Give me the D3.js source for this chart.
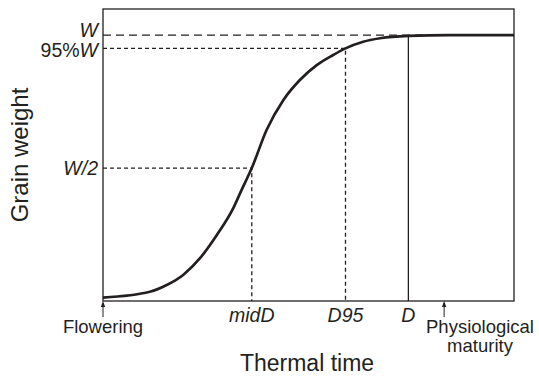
<!DOCTYPE html>
<html>
<head>
<meta charset="utf-8">
<script src="https://cdn.jsdelivr.net/npm/d3@7"></script>
<style>
  body { margin: 0; background: #fff; }
  text { font-family: Arial, "Liberation Sans", Helvetica, sans-serif; fill: #231f20; }
</style>
</head>
<body>
<div id="chart"></div>
<script>
// thermal time (arbitrary units, flowering = 0) and grain weight (% of W)
let thermalTime = [0, 114, 155, 195, 236, 277, 317, 337, 362, 398, 439, 479, 520, 560, 590, 633, 674, 743, 844, 1000]
let grainWeight = [1.3, 3.5, 6.0, 9.8, 16.1, 24.8, 34.9, 41.7, 50.0, 64.3, 75.6, 83.1, 88.7, 92.5, 95, 97.5, 98.8, 99.7, 100, 100]

let finalWeight = 100
let midD = 362
let d95 = 590
let dEnd = 743
let maturity = 830

// dy = baseline offset from the guide line
let yLabels = [
    { v: finalWeight, pre: "", it: "W", dy: 1.5 },
    { v: finalWeight * 0.95, pre: "95%", it: "W", dy: 8.5 },
    { v: finalWeight / 2, pre: "", it: "W/2", dy: 7 }
]
let xLabels = [
    { v: midD, t: "midD" },
    { v: d95, t: "D95" },
    { v: dEnd, t: "D" }
]

const width = 539, height = 376
const margin = { top: 9, right: 25, bottom: 75, left: 103 }

let svg = d3.select('#chart')
    .append('svg')
    .attr('width', width)
    .attr('height', height)

let x = d3.scaleLinear().domain([0, 1000]).range([margin.left, width - margin.right])
let y = d3.scaleLinear().domain([0, 109.8]).range([height - margin.bottom, margin.top])

let ink = '#231f20'
let x0 = x.range()[0], x1 = x.range()[1]
let yBot = y.range()[0], yTop = y.range()[1]

// box
svg.append('rect')
    .attr('x', x0).attr('y', yTop)
    .attr('width', x1 - x0).attr('height', yBot - yTop)
    .attr('fill', 'none').attr('stroke', ink).attr('stroke-width', 1.3)

// W line (long dashes)
svg.append('line')
    .attr('x1', x0).attr('x2', x1)
    .attr('y1', y(finalWeight)).attr('y2', y(finalWeight))
    .attr('stroke', ink).attr('stroke-width', 1.3)
    .attr('stroke-dasharray', '8,5')

// 95% W and W/2 guide lines
function guide(xv, yv) {
    svg.append('path')
        .attr('d', `M${x0},${y(yv)}H${x(xv)}V${yBot}`)
        .attr('fill', 'none')
        .attr('stroke', ink).attr('stroke-width', 1.3)
        .attr('stroke-dasharray', '4,3')
}
guide(d95, finalWeight * 0.95)
guide(midD, finalWeight / 2)

// D solid line
svg.append('line')
    .attr('x1', x(dEnd)).attr('x2', x(dEnd))
    .attr('y1', y(finalWeight)).attr('y2', yBot)
    .attr('stroke', ink).attr('stroke-width', 1.3)

// curve
let data = thermalTime.map((t, i) => ({ t: t, w: grainWeight[i] }))
let line = d3.line()
    .x(d => x(d.t))
    .y(d => y(d.w))
    .curve(d3.curveMonotoneX)

svg.append('path')
    .datum(data)
    .attr('d', line)
    .attr('fill', 'none')
    .attr('stroke', ink)
    .attr('stroke-width', 2.7)

// y labels
yLabels.forEach(l => {
    let t = svg.append('text')
        .attr('x', x0 - 5)
        .attr('y', y(l.v) + l.dy)
        .attr('text-anchor', 'end')
        .attr('font-size', 19.5)
    if (l.pre) t.append('tspan').text(l.pre)
    t.append('tspan').attr('font-style', 'italic').text(l.it)
})

// x labels
xLabels.forEach(l => {
    svg.append('text')
        .attr('x', x(l.v))
        .attr('y', yBot + 21)
        .attr('text-anchor', 'middle')
        .attr('font-size', 19.5)
        .attr('font-style', 'italic')
        .text(l.t)
})

// arrows
function arrow(xv) {
    let px = x(xv)
    svg.append('line')
        .attr('x1', px).attr('x2', px)
        .attr('y1', yBot + 2).attr('y2', yBot + 16)
        .attr('stroke', ink).attr('stroke-width', 1)
    svg.append('path')
        .attr('d', `M${px},${yBot}L${px - 2.2},${yBot + 6}L${px + 2.2},${yBot + 6}Z`)
        .attr('fill', ink)
}
arrow(0)
arrow(maturity)

svg.append('text')
    .attr('x', x(0))
    .attr('y', yBot + 32)
    .attr('text-anchor', 'middle')
    .attr('font-size', 18.5)
    .text('Flowering')

svg.append('text')
    .attr('x', 480)
    .attr('y', yBot + 32)
    .attr('text-anchor', 'middle')
    .attr('font-size', 18.5)
    .text('Physiological')
svg.append('text')
    .attr('x', 480)
    .attr('y', yBot + 51)
    .attr('text-anchor', 'middle')
    .attr('font-size', 18.5)
    .text('maturity')

// axis titles
svg.append('text')
    .attr('x', 307)
    .attr('y', 371)
    .attr('text-anchor', 'middle')
    .attr('font-size', 23)
    .text('Thermal time')

svg.append('text')
    .attr('transform', `translate(28,${155}) rotate(-90)`)
    .attr('text-anchor', 'middle')
    .attr('font-size', 24)
    .text('Grain weight')
</script>
</body>
</html>
